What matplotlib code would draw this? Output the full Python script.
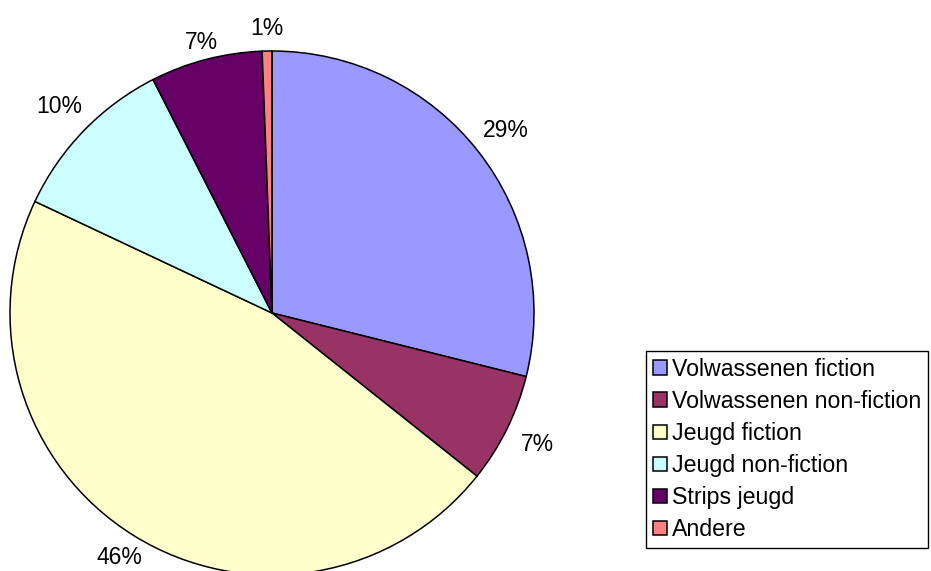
import matplotlib
matplotlib.use('Agg')
import matplotlib.pyplot as plt

categories = ['Volwassenen fiction', 'Volwassenen non-fiction', 'Jeugd fiction',
              'Jeugd non-fiction', 'Strips jeugd', 'Andere']
shares = [28.9, 6.8, 46.3, 10.5, 6.9, 0.6]
colors = ['#9999FF', '#993366', '#FFFFCC', '#CCFFFF', '#660066', '#FF8080']

plt.rcParams['font.family'] = ['Liberation Sans', 'DejaVu Sans']

W, H = 931, 571
fig = plt.figure(figsize=(W / 100, H / 100), dpi=100)

# pie centre (272, 313) px, radius 262 px
cx, cy, r = 272, 313, 262
ax = fig.add_axes([(cx - r) / W, (H - cy - r) / H, 2 * r / W, 2 * r / H])
wedges, texts, autotexts = ax.pie(
    shares, colors=colors, startangle=90, counterclock=False,
    autopct=lambda p: '%.0f%%' % p, pctdistance=1.13,
    wedgeprops=dict(edgecolor='black', linewidth=1.1),
    textprops=dict(fontsize=16.5, color='black'))
for w in wedges:
    w.set_clip_on(False)
# some labels sit a bit closer to the rim
for i, k in [(2, 1.1), (4, 1.065), (5, 1.085)]:
    x, y = autotexts[i].get_position()
    autotexts[i].set_position((x * k / 1.13, y * k / 1.13))
ax.set_xlim(-1, 1)
ax.set_ylim(-1, 1)
ax.set_aspect('equal')
ax.axis('off')

leg = fig.legend(wedges, categories, loc='upper left',
                 bbox_to_anchor=(646 / W, 1 - 351 / H), bbox_transform=fig.transFigure,
                 borderaxespad=0, fontsize=16.7, fancybox=False, framealpha=1,
                 edgecolor='black', handlelength=0.6, handleheight=0.6,
                 handletextpad=0.2, labelspacing=0.39, borderpad=0.3)
leg.get_frame().set_linewidth(1.0)

fig.savefig('out.png', dpi=100)
